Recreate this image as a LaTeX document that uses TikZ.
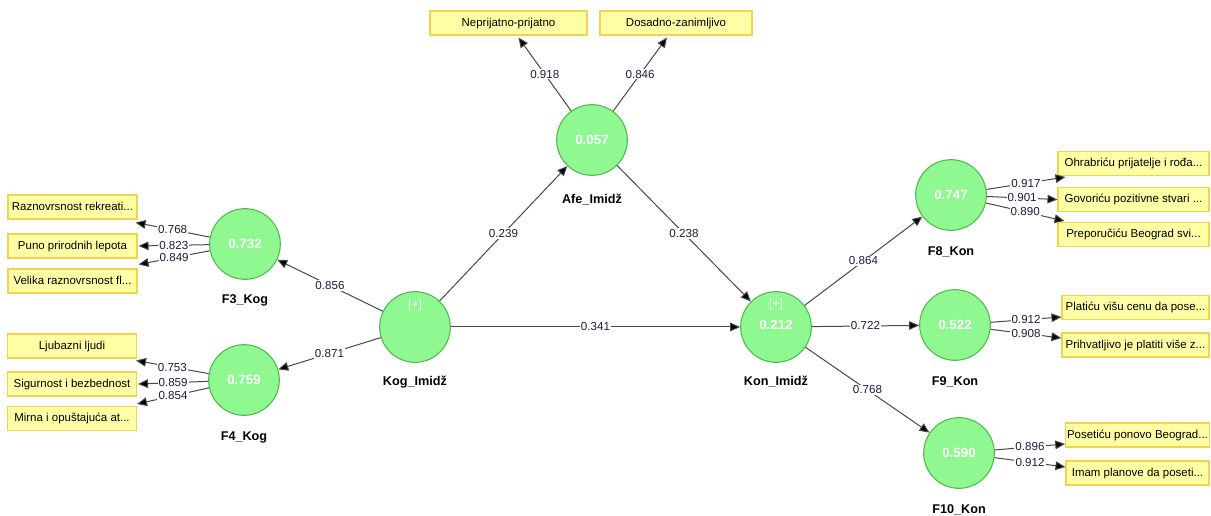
\documentclass[tikz,border=0pt]{standalone}
\usepackage{fontspec}
\setmainfont{Liberation Sans}
\usetikzlibrary{arrows.meta,calc}
\definecolor{lvfill}{HTML}{90F890}
\definecolor{lvdraw}{HTML}{4FB84F}
\definecolor{mvfill}{HTML}{FFFFA6}
\definecolor{mvdraw}{HTML}{F2D350}
\definecolor{edge}{HTML}{484848}
\definecolor{coef}{HTML}{1C1C3C}
\begin{document}
\begin{tikzpicture}[x=0.75pt,y=-0.75pt,
  latent/.style={circle,draw=lvdraw,fill=lvfill,line width=0.8pt,minimum size=53pt,inner sep=0pt,
    text=white,font=\fontsize{10}{12}\selectfont\bfseries},
  latname/.style={font=\fontsize{9.5}{11}\selectfont\bfseries,text=black},
  indicator/.style={draw=mvdraw,fill=mvfill,line width=0.8pt,minimum height=18pt,inner sep=1pt,
    text height=6.3pt,text depth=1.6pt,
    font=\fontsize{8.6}{10}\selectfont,text=black},
  path/.style={draw=edge,line width=0.75pt,-{Triangle[length=7.5pt,width=6.5pt,fill=black]}},
  wt/.style={fill=white,inner sep=0.8pt,font=\fontsize{8.7}{10}\selectfont,text=coef},
  plus/.style={text=white!85!lvfill,font=\fontsize{9}{10}\selectfont}]
\useasboundingbox (0,0) rectangle (1211,516);
\fill[white] (0,0) rectangle (1211,516);

% latent variables
\node[latent] (kog) at (415,327) {};
\node[plus] at (415,305) {[+]};
\node[latname] at (415,382) {Kog\_Imidž};
\node[latent] (kon) at (776,327) {};
\node[plus] at (776,304) {[+]};
\node[latent,fill=none,draw=none] at (776,325) {0.212};
\node[latname] at (776,382) {Kon\_Imidž};
\node[latent] (afe) at (592,140) {0.057};
\node[latname] at (592,200) {Afe\_Imidž};
\node[latent] (f3) at (245,244) {0.732};
\node[latname] at (245,300) {F3\_Kog};
\node[latent] (f4) at (244,380) {0.759};
\node[latname] at (244,437) {F4\_Kog};
\node[latent] (f8) at (951,195) {0.747};
\node[latname] at (951,252) {F8\_Kon};
\node[latent] (f9) at (955,325) {0.522};
\node[latname] at (955,382) {F9\_Kon};
\node[latent] (f10) at (959,453) {0.590};
\node[latname] at (959,510) {F10\_Kon};

% indicators
\node[indicator,minimum width=96.75pt] (a1) at (72.5,207) {Raznovrsnost rekreati...};
\node[indicator,minimum width=96.75pt] (a2) at (72.5,246) {Puno prirodnih lepota};
\node[indicator,minimum width=96.75pt] (a3) at (72.5,281) {Velika raznovrsnost fl...};
\node[indicator,minimum width=96.75pt] (b1) at (72,346) {Ljubazni ljudi};
\node[indicator,minimum width=96.75pt] (b2) at (72,384) {Sigurnost i bezbednost};
\node[indicator,minimum width=96.75pt] (b3) at (72,418.5) {Mirna i opuštajuća at...};
\node[indicator,minimum width=117.75pt] (c1) at (508.5,23) {Neprijatno-prijatno};
\node[indicator,minimum width=114pt] (c2) at (676,23) {Dosadno-zanimljivo};
\node[indicator,minimum width=113.25pt] (d1) at (1133.5,163.5) {Ohrabriću prijatelje i rođa...};
\node[indicator,minimum width=113.25pt] (d2) at (1133.5,199.5) {Govoriću pozitivne stvari ...};
\node[indicator,minimum width=113.25pt] (d3) at (1133.5,234.5) {Preporučiću Beograd svi...};
\node[indicator,minimum width=110.25pt] (e1) at (1135.5,307.5) {Platiću višu cenu da pose...};
\node[indicator,minimum width=110.25pt] (e2) at (1135.5,345) {Prihvatljivo je platiti više z...};
\node[indicator,minimum width=107.25pt] (g1) at (1137.5,435) {Posetiću ponovo Beograd...};
\node[indicator,minimum width=107.25pt] (g2) at (1137.5,473) {Imam planove da poseti...};

% structural paths
\draw[path] (kog) -- node[wt] {0.239} (afe);
\draw[path] (afe) -- node[wt] {0.238} (kon);
\draw[path] (kog) -- node[wt] {0.341} (kon);
\draw[path] (kog) -- node[wt] {0.856} (f3);
\draw[path] (kog) -- node[wt] {0.871} (f4);
\draw[path] (kon) -- node[wt] {0.864} (f8);
\draw[path] (kon) -- node[wt] {0.722} (f9);
\draw[path] (kon) -- node[wt] {0.768} (f10);

% outer loadings
\draw[path] (afe) -- node[wt] {0.918} ($(c1.south)+(10,2)$);
\draw[path] (afe) -- node[wt] {0.846} ($(c2.south)+(-9,2)$);
\draw[path] (f3) -- node[wt] {0.768} ($(a1.south east)+(-2,3)$);
\draw[path] (f3) -- node[wt] {0.823} ($(a2.east)+(1,0)$);
\draw[path] (f3) -- node[wt] {0.849} ($(a3.north east)+(1,-4)$);
\draw[path] (f4) -- node[wt] {0.753} ($(b1.south east)+(-1,2)$);
\draw[path] (f4) -- node[wt] {0.859} ($(b2.east)+(1,0)$);
\draw[path] (f4) -- node[wt] {0.854} ($(b3.north east)+(0,-2)$);
\draw[path] (f8) -- node[wt] {0.917} ($(d1.south west)+(8,1)$);
\draw[path] (f8) -- node[wt] {0.901} (d2.west);
\draw[path] (f8) -- node[wt] {0.890} ($(d3.north west)+(7,-1)$);
\draw[path] (f9) -- node[wt] {0.912} ($(e1.west)+(0,9.5)$);
\draw[path] (f9) -- node[wt] {0.908} ($(e2.west)+(0,-7)$);
\draw[path] (f10) -- node[wt] {0.896} ($(g1.west)+(0,9)$);
\draw[path] (f10) -- node[wt] {0.912} ($(g2.west)+(0,-6)$);
\end{tikzpicture}
\end{document}
